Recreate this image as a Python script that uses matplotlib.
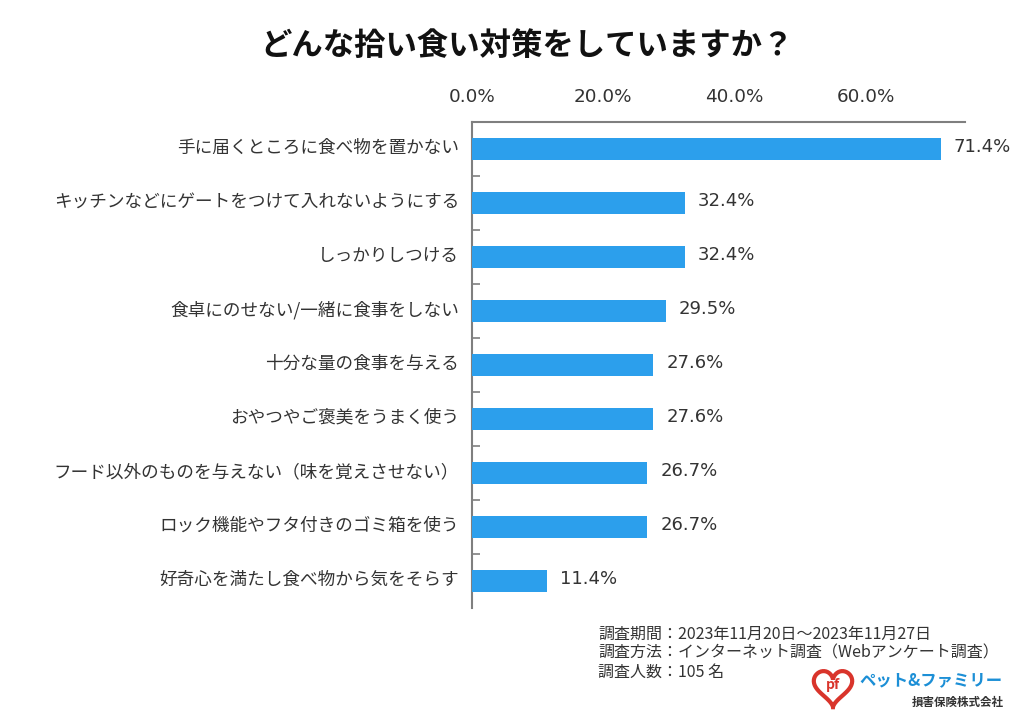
import matplotlib
matplotlib.use("Agg")
import matplotlib.pyplot as plt
import matplotlib.transforms as mtrans
import numpy as np
from matplotlib.path import Path
from matplotlib.patches import PathPatch

plt.rcParams['font.family'] = ['Noto Sans CJK JP', 'DejaVu Sans']

categories = ["手に届くところに食べ物を置かない",
              "キッチンなどにゲートをつけて入れないようにする",
              "しっかりしつける",
              "食卓にのせない/一緒に食事をしない",
              "十分な量の食事を与える",
              "おやつやご褒美をうまく使う",
              "フード以外のものを与えない（味を覚えさせない）",
              "ロック機能やフタ付きのゴミ箱を使う",
              "好奇心を満たし食べ物から気をそらす"]
values = [71.4, 32.4, 32.4, 29.5, 27.6, 27.6, 26.7, 26.7, 11.4]
xticks = [0, 20, 40, 60]
title = "どんな拾い食い対策をしていますか？"
notes = ["調査期間：2023年11月20日～2023年11月27日",
         "調査方法：インターネット調査（Webアンケート調査）",
         "調査人数：105 名"]

W, H = 1024, 724
fig = plt.figure(figsize=(W/100, H/100), dpi=100, facecolor='white')
L, R, T, B = 472, 964.5, 122, 608
ax = fig.add_axes([L/W, 1-B/H, (R-L)/W, (B-T)/H])
y = np.arange(len(values))
ax.barh(y, values, height=0.40, color='#2C9FEC', zorder=3)
ax.set_xlim(0, 75)
ax.set_ylim(len(values)-0.5, -0.5)
ax.xaxis.tick_top()
ax.set_xticks(xticks)
ax.set_xticklabels([f"{v:.1f}%" for v in xticks], fontsize=13.2, color='#333333',
                   family=['DejaVu Sans'])
ax.tick_params(axis='x', length=0, pad=11.5)
ax.set_yticks(y)
ax.set_yticklabels(categories, fontsize=12.7, color='#333333')
ax.tick_params(axis='y', length=0, pad=9.2)
shift = mtrans.ScaledTranslation(0, 3/100, fig.dpi_scale_trans)
for lab in ax.get_yticklabels():
    lab.set_transform(lab.get_transform() + shift)
ax.set_yticks(y[:-1]+0.5, minor=True)
ax.tick_params(axis='y', which='minor', direction='in', length=6, width=1.2, color='#7f7f7f')
for s in ['right', 'bottom']:
    ax.spines[s].set_visible(False)
for s in ['left', 'top']:
    ax.spines[s].set_color('#7f7f7f')
    ax.spines[s].set_linewidth(1.5)
for yi, v in zip(y, values):
    ax.annotate(f"{v:.1f}%", (v, yi), xytext=(13, 2), textcoords='offset pixels',
                va='center', ha='left', fontsize=13, color='#333333', family=['DejaVu Sans'])

def px(xp, yp):
    return xp/W, 1-yp/H

fig.text(*px(527, 46), title, fontsize=22.6, fontweight='bold', ha='center', va='center', color='#111111')
for n, yp in zip(notes, [634.5, 653, 672.5]):
    fig.text(*px(598, yp), n, fontsize=11.5, ha='left', va='center', color='#333333')

# logo
t = np.linspace(0, 2*np.pi, 80)
hx = 16*np.sin(t)**3
hy = 13*np.cos(t)-5*np.cos(2*t)-2*np.cos(3*t)-np.cos(4*t)
hxp = 833 + hx*1.2
hyp = 686 - hy*1.25
overlay = fig.add_axes([0, 0, 1, 1], facecolor='none')
overlay.set_xlim(0, W)
overlay.set_ylim(H, 0)
overlay.axis('off')
overlay.add_patch(PathPatch(Path(np.c_[hxp, hyp]), fc='white', ec='#D9342B', lw=3))
overlay.text(833, 685, "pf", fontsize=10, fontweight='bold', color='#D9342B', ha='center', va='center')
overlay.text(930.5, 680, "ペット&ファミリー", fontsize=11.8, fontweight='bold', color='#1C8FD6', ha='center', va='center')
overlay.text(957.5, 702, "損害保険株式会社", fontsize=8.3, fontweight='bold', color='#333333', ha='center', va='center')

fig.savefig("out.png", dpi=100)
